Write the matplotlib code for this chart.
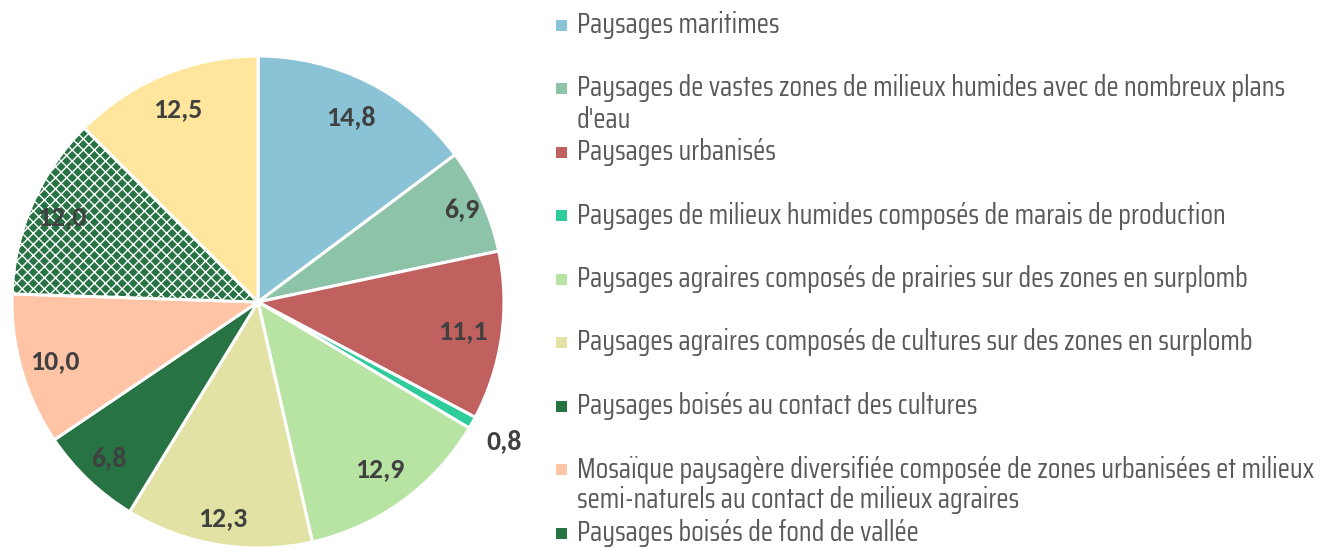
import matplotlib
matplotlib.use('Agg')
import matplotlib.pyplot as plt
from matplotlib.patches import Rectangle
import numpy as np

# landscape shares (%)
categories = [
    "Paysages maritimes",
    "Paysages de vastes zones de milieux humides avec de nombreux plans\nd'eau",
    "Paysages urbanisés",
    "Paysages de milieux humides composés de marais de production",
    "Paysages agraires composés de prairies sur des zones en surplomb",
    "Paysages agraires composés de cultures sur des zones en surplomb",
    "Paysages boisés au contact des cultures",
    "Mosaïque paysagère diversifiée composée de zones urbanisées et milieux\nsemi-naturels au contact de milieux agraires",
    "Paysages boisés de fond de vallée",
    "Paysages boisés de coteaux",
]
values = [14.8, 6.9, 11.1, 0.8, 12.9, 12.3, 6.8, 10.0, 12.0, 12.5]
colors = ['#8AC3D5', '#8DC3A9', '#C0605F', '#2ECC9A', '#B7E4A2',
          '#E2E2A5', '#277344', '#FFC4A6', '#277344', '#FFE69C']
hatches = [None] * 8 + ['xxx', None]
# radial position of each value label (fraction of radius)
label_r = [0.84, 0.91, 0.84, 1.15, 0.84, 0.89, 0.88, 0.86, 0.87, 0.85]

label_font = ['Carlito', 'Lato', 'DejaVu Sans']
leg_font = ['Saira Extra Condensed', 'Saira Condensed', 'Pathway Gothic One', 'DejaVu Sans']

W, H = 1330, 548
fig = plt.figure(figsize=(W / 100, H / 100), dpi=100)
plt.rcParams['hatch.color'] = '#FFC4A6'
plt.rcParams['hatch.linewidth'] = 1.0

cx, cy, r = 258, 302, 246
ax = fig.add_axes([(cx - r) / W, (H - cy - r) / H, 2 * r / W, 2 * r / H])

wedges, _ = ax.pie(values, colors=colors, startangle=90, counterclock=False,
                   radius=1, wedgeprops=dict(edgecolor='white', linewidth=2.2))
for w, h in zip(wedges, hatches):
    if h:
        w.set_hatch(h)
ax.set_xlim(-1, 1)
ax.set_ylim(-1, 1)
ax.axis('off')

for w, v, d in zip(wedges, values, label_r):
    ang = np.deg2rad((w.theta1 + w.theta2) / 2)
    ax.text(d * np.cos(ang), d * np.sin(ang), f"{v:.1f}".replace('.', ','),
            ha='center', va='center', fontsize=20, fontweight='bold',
            color='#404040', family=label_font)

# legend with fixed row spacing; wrapped lines hang below their row
y0, dy = 25, 63.5
for i, (lab, c, h) in enumerate(zip(categories, colors, hatches)):
    y = y0 + i * dy
    fig.patches.append(Rectangle((556 / W, (H - y - 5.5) / H), 11 / W, 11 / H,
                                 transform=fig.transFigure, facecolor=c,
                                 edgecolor='none', hatch=h))
    for j, line in enumerate(lab.split('\n')):
        fig.text(577 / W, (H - y - 31 * j) / H, line, ha='left', va='center',
                 fontsize=20.3, color='#595959', family=leg_font)

fig.savefig('out.png', dpi=100)
